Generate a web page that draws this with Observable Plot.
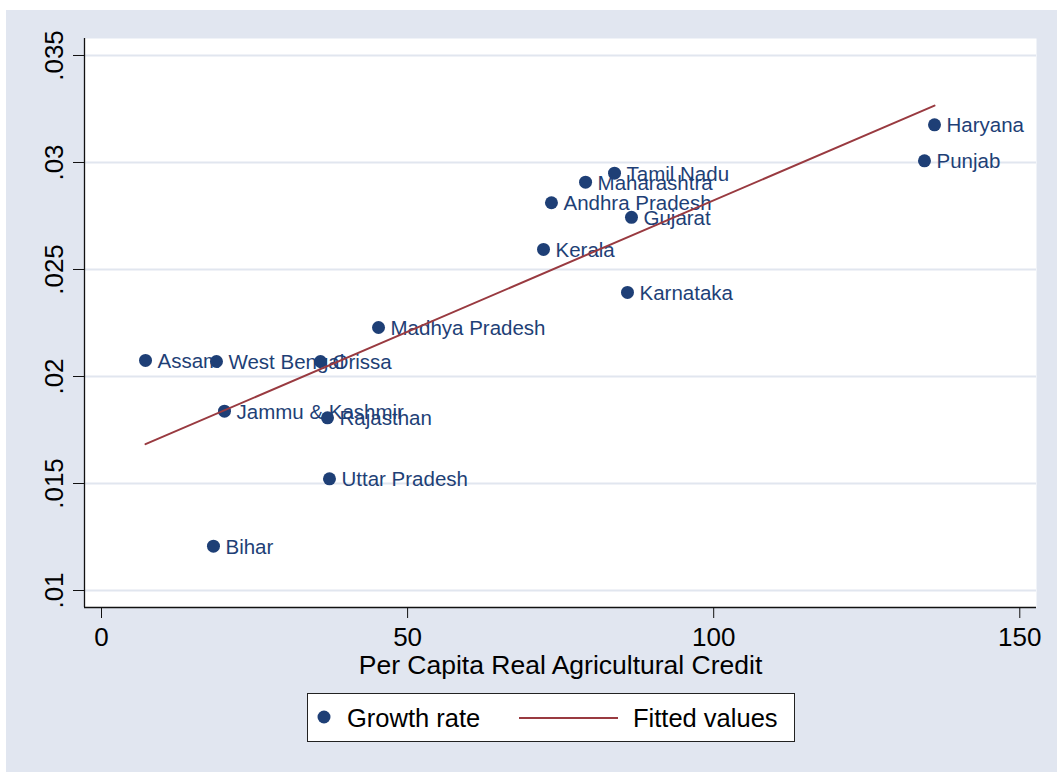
<!DOCTYPE html>
<html><head><meta charset="utf-8">
<script src="https://cdn.jsdelivr.net/npm/d3@7"></script>
<script src="https://cdn.jsdelivr.net/npm/@observablehq/plot@0.6"></script>
<style>
html,body{margin:0;padding:0;background:#fff;}
#fig{position:absolute;left:6px;top:10px;width:1051px;height:762px;background:#e1e6f0;font-family:"Liberation Sans",Arial,sans-serif;overflow:hidden;}
#chart{position:absolute;left:0;top:0;}
#legend{position:absolute;left:301px;top:683px;width:488px;height:49px;box-sizing:border-box;border:1px solid #222;background:#fff;}
#legend svg{display:block;}
</style></head>
<body>
<div id="fig"><div id="chart"></div><div id="legend"></div></div>
<script>
const states = ["Assam","West Bengal","Orissa","Jammu & Kashmir","Rajasthan","Uttar Pradesh","Bihar","Madhya Pradesh","Kerala","Andhra Pradesh","Maharashtra","Tamil Nadu","Gujarat","Karnataka","Haryana","Punjab"];
const credit = [7.19,18.78,35.77,20.09,36.92,37.24,18.29,45.25,72.2,73.5,79.07,83.8,86.57,85.92,136.07,134.43];
const growth = [0.02075,0.0207,0.0207,0.01838,0.01807,0.01522,0.01207,0.02229,0.02594,0.02812,0.02908,0.0295,0.02744,0.02393,0.03176,0.03008];
const fitCredit = [7.19, 136.07];
const fitValues = [0.01684, 0.03266];
const xTicks = [0,50,100,150];
const xTickLabels = ["0","50","100","150"];
const yTicks = [0.01,0.015,0.02,0.025,0.03,0.035];
const yTickLabels = [".01",".015",".02",".025",".03",".035"];
const xTitle = "Per Capita Real Agricultural Credit";
const legendLabels = ["Growth rate","Fitted values"];

const xDomain = [-2.777, 152.73];
const yDomain = [0.009206, 0.035794];
const navy = "#1e3f76", maroon = "#993a40";

const points = states.map((s,i)=>({state:s, x:credit[i], y:growth[i]}));
const fit = fitCredit.map((x,i)=>({x, y:fitValues[i]}));

const chart = Plot.plot({
  width:1051, height:680,
  marginLeft:78, marginRight:21, marginTop:28, marginBottom:83,
  x:{domain:xDomain}, y:{domain:yDomain},
  style:{background:"transparent", fontFamily:'"Liberation Sans",Arial,sans-serif', color:"#000", overflow:"visible"},
  marks:[
    Plot.frame({fill:"#fff", stroke:"none"}),
    Plot.ruleY(yTicks, {stroke:"#e1e6ef", strokeWidth:2}),
    Plot.ruleX([xDomain[0]], {stroke:"#111", strokeWidth:1.3}),
    Plot.ruleY([yDomain[0]], {stroke:"#111", strokeWidth:1.3}),
    Plot.axisX({ticks:xTicks, tickFormat:d=>xTickLabels[xTicks.indexOf(d)], tickSize:11, tickPadding:9, fontSize:26, label:null, stroke:"#111"}),
    Plot.axisY({ticks:yTicks, tickFormat:d=>yTickLabels[yTicks.indexOf(d)], tickRotate:-90, tickSize:11, tickPadding:11, fontSize:26, label:null, stroke:"#111"}),
    Plot.dot(points, {x:"x", y:"y", r:6.5, fill:navy, stroke:"none"}),
    Plot.text(points, {x:"x", y:"y", text:"state", dx:12, dy:1, textAnchor:"start", fill:navy, fontSize:20.5}),
    Plot.line(fit, {x:"x", y:"y", stroke:maroon, strokeWidth:2}),
    Plot.text([xTitle], {text:d=>d, frameAnchor:"bottom", dy:66, lineAnchor:"bottom", fontSize:26.5, fill:"#000"})
  ]
});
document.getElementById("chart").appendChild(chart);

const lg = d3.select("#legend").append("svg").attr("width",486).attr("height",47)
  .style("font-family",'"Liberation Sans",Arial,sans-serif');
lg.append("circle").attr("cx",16).attr("cy",23).attr("r",6.5).attr("fill",navy);
lg.append("text").attr("x",39).attr("y",33).attr("font-size",25.5).attr("fill","#000").text(legendLabels[0]);
lg.append("line").attr("x1",211).attr("x2",310).attr("y1",24).attr("y2",24).attr("stroke",maroon).attr("stroke-width",2.2);
lg.append("text").attr("x",325).attr("y",33).attr("font-size",25.5).attr("fill","#000").text(legendLabels[1]);
</script>
</body></html>
